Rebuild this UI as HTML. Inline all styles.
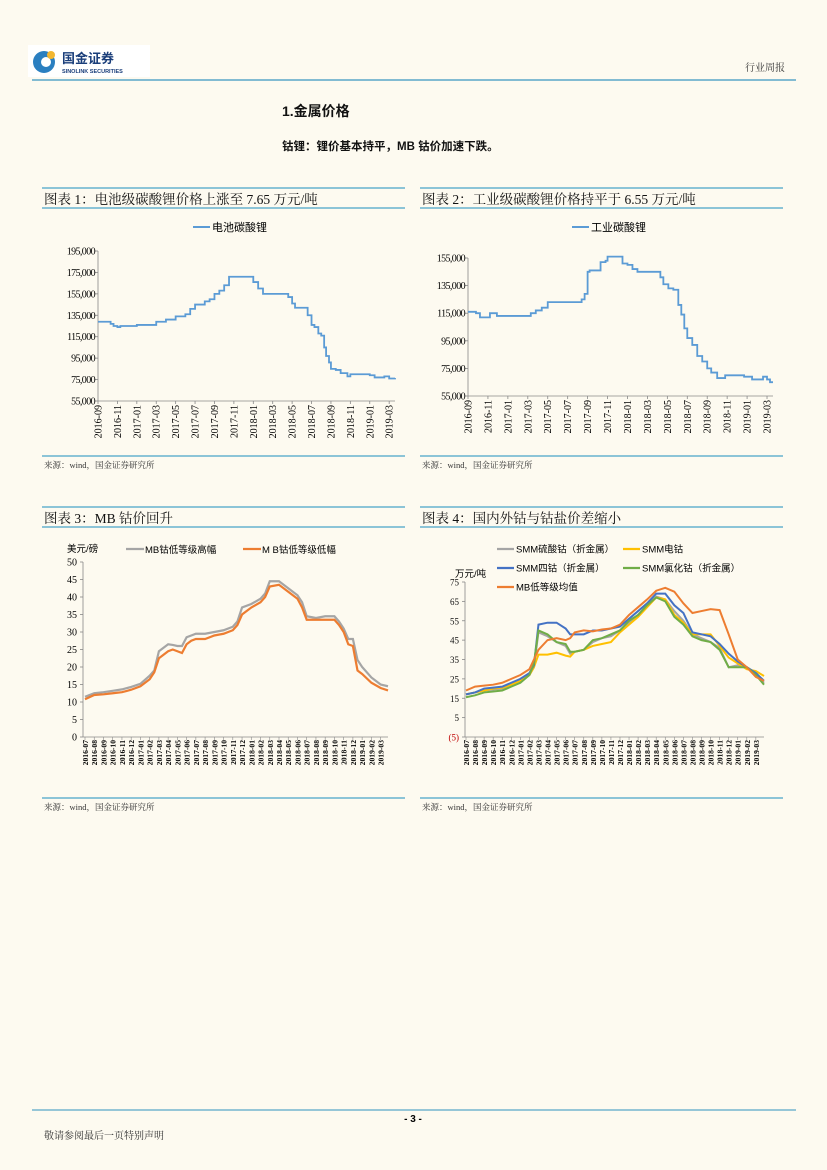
<!DOCTYPE html>
<html><head><meta charset="utf-8">
<style>
html,body{margin:0;padding:0;background:#fdfaf0;}
svg{display:block;font-family:"Liberation Serif","Noto Serif CJK SC",serif;}
.sans{font-family:"Liberation Sans","Noto Sans CJK SC",sans-serif;}
</style></head>
<body>
<svg id="page" width="827" height="1170" viewBox="0 0 827 1170" xmlns="http://www.w3.org/2000/svg">
<rect width="827" height="1170" fill="#fdfaf0"/>
<g>
 <rect x="28" y="45" width="122" height="32" fill="#ffffff"/>
 <circle cx="44" cy="62" r="11" fill="#2a7fc0"/>
 <circle cx="46" cy="62" r="5" fill="#ffffff"/>
 <circle cx="51" cy="55" r="4" fill="#f2b630"/>
 <text x="62" y="63" class="sans" font-size="13" font-weight="bold" fill="#1a3e7a">国金证券</text>
 <text x="62" y="73" class="sans" font-size="5.5" font-weight="bold" fill="#1a3e7a">SINOLINK SECURITIES</text>
 <text x="785" y="71" font-size="10" text-anchor="end" fill="#333">行业周报</text>
 <line x1="32" y1="80" x2="796" y2="80" stroke="#5aa6c8" stroke-width="1.5"/>
</g>
<text x="282" y="116" class="sans" font-size="14" font-weight="bold" fill="#111">1.金属价格</text>
<text x="282" y="150" class="sans" font-size="11.5" font-weight="bold" fill="#111">钴锂：锂价基本持平，MB 钴价加速下跌。</text>
<g id="charts"></g>
<g>
 <line x1="32" y1="1110" x2="796" y2="1110" stroke="#5aa6c8" stroke-width="1.2"/>
 <text x="413" y="1122" text-anchor="middle" class="sans" font-size="10" font-weight="bold">- 3 -</text>
 <text x="44" y="1139" font-size="10" fill="#333">敬请参阅最后一页特别声明</text>
</g>
</svg>
<script>
// Chart 1: battery-grade lithium carbonate (x = months since 2016-09)
const c1Months=[0,1.3,1.6,2,2.3,4,6,7,8,9,9.5,10,11,11.5,12,12.5,13,13.5,15.7,16,16.5,17,19.3,19.6,20,20.3,21.3,21.6,22,22.3,22.7,23,23.3,23.5,23.8,24,24.5,25,25.7,26,28,28.5,29.5,30,30.6];
const c1Values=[129,127,125,124,125,126,129,131,134,136,141,145,148,150,155,158,163,171,171,166,160,155,155,152,146,142,142,135,126,124,118,116,105,97,91,85,84,81,78,80,79,77,78,76,76.5];
const c1Ticks=[55000,75000,95000,115000,135000,155000,175000,195000];
const c1XLabels=["2016-09","2016-11","2017-01","2017-03","2017-05","2017-07","2017-09","2017-11","2018-01","2018-03","2018-05","2018-07","2018-09","2018-11","2019-01","2019-03"];
// Chart 2: industrial-grade lithium carbonate
const c2Months=[0,0.8,1.2,2.2,2.9,6.3,6.8,7.4,8,11.4,11.7,12,12.2,13.3,13.8,14,15.5,16,16.5,17,19.3,19.6,20.1,20.6,21.1,21.4,21.7,22,22.5,23,23.5,24,24.4,25,25.8,26.4,27.7,28.5,29.6,30,30.3,30.6];
const c2Values=[116,115,112,115,113,115,117,119,123,125,129,145,146,152,153,156,151,150,147,145,141,136,133,132,121,114,104,97,92,84,80,75,72,68,70,70,69,67,69,67,65,65];
const c2Ticks=[55000,75000,95000,115000,135000,155000];
const c2XLabels=c1XLabels;
// Chart 3: MB cobalt (x = months since 2016-07)
const c3Months=[0,1,2,3,4,5,6,7,7.5,8,8.5,9,9.5,10,10.5,11,11.5,12,13,14,15,16,16.5,17,18,19,19.5,20,21,22,23,23.5,24,25,26,27,27.5,28,28.5,29,29.5,30,31,32,32.8];
const c3High=[11.5,12.5,12.8,13.2,13.6,14.3,15.2,17.5,19,24.5,25.5,26.5,26.3,26,26,28.5,29,29.5,29.5,30,30.5,31.5,33,37,38,39.5,41,44.5,44.5,42.5,40.5,38.5,34.5,34,34.5,34.5,33,31,28,28,22,20,17,15,14.5];
const c3Low=[10.8,12,12.2,12.5,12.8,13.5,14.5,16.5,18.5,22.5,23.5,24.5,25,24.5,24,26.5,27.5,28,28,29,29.5,30.5,32,35,37,38.5,40,43,43.5,41.5,39.5,37,33.5,33.5,33.5,33.5,32,30,26.5,26,19,18,15.5,14,13.3];
const c3Ticks=[0,5,10,15,20,25,30,35,40,45,50];
const monthLabels=["2016-07","2016-08","2016-09","2016-10","2016-11","2016-12","2017-01","2017-02","2017-03","2017-04","2017-05","2017-06","2017-07","2017-08","2017-09","2017-10","2017-11","2017-12","2018-01","2018-02","2018-03","2018-04","2018-05","2018-06","2018-07","2018-08","2018-09","2018-10","2018-11","2018-12","2019-01","2019-02","2019-03"];
// Chart 4: domestic vs MB cobalt (x = months since 2016-07)
const c4Months=[0,1,2,3,4,5,6,7,7.5,8,9,10,11,11.5,12,13,14,15,16,17,18,19,20,21,22,23,24,25,26,27,28,29,30,31,32,32.9];
const c4Sulfate=[17,18,19,19.5,20,22,24,27,31,49,47,44,42,38,39,40,44,46,47,50,54,58,63,67.5,66,60,55,48,46,44,41,31,32,31,28,23];
const c4Electro=[17,18,19,20,20.5,22,24,27,31,37.5,37.5,38.5,37,36.5,39,40,42,43,44,49,53,57,62,67,66,58,54,48,48,48,42,36,33,30,29,26.5];
const c4Oxide=[17,18,20,20.5,21,23,25,28,32,53,54,54,51,48,48,48,50,50,51,52,56,60,64,69,69,63,59,49,48,47,43,38,34,31,28,24];
const c4Chloride=[15.5,16.5,18,18.5,19,21,23,27,33,50,48,44,43,39,39,40,45,46,48,50,55,58,63,67,65,57,53,47,45,44,40,31,31,31,27,22];
const c4MB=[19,21,21.5,22,23,25,27,30,35,40,45,46,45,46,49,50,49.5,50.5,51,53,58,62,66,70.5,72,70,64,59,60,61,60.5,48,35,31,26,24];
const c4Ticks=[-5,5,15,25,35,45,55,65,75];

const NS="http://www.w3.org/2000/svg";
const root=document.getElementById('charts');
function mk(tag,attrs,parent,text){const e=document.createElementNS(NS,tag);for(const k in attrs)e.setAttribute(k,attrs[k]);if(text!==undefined)e.textContent=text;(parent||root).appendChild(e);return e;}
function scale(d0,d1,r0,r1){return v=>r0+(v-d0)/(d1-d0)*(r1-r0);}
function frame(x1,x2,yTop,yBot,title,srcY,name){
  const g=mk('g',{});
  
  
  mk('line',{x1:x1,y1:yTop,x2:x2,y2:yTop,stroke:'#4aa3c8','stroke-width':1.3},g);
  mk('line',{x1:x1,y1:yBot,x2:x2,y2:yBot,stroke:'#4aa3c8','stroke-width':1.3},g);
  const t=mk('text',{x:x1+2,y:yTop+16,'font-size':13.5,fill:'#111'},g,title);
  
  
  mk('line',{x1:x1,y1:srcY,x2:x2,y2:srcY,stroke:'#4aa3c8','stroke-width':1.3},g);
  const s=mk('text',{x:x1+2,y:srcY+12,'font-size':8.5,fill:'#333'},g,'来源：wind，国金证券研究所');
  
  
  return g;
}
function stepPath(xs,ys,sx,sy){let d='';for(let i=0;i<xs.length;i++){const X=sx(xs[i]),Y=sy(ys[i]);if(i===0)d+='M'+X+' '+Y;else d+=' H'+X+' V'+Y;}return d;}
function linePath(xs,ys,sx,sy){return xs.map((x,i)=>(i?'L':'M')+sx(x)+' '+sy(ys[i])).join(' ');}
function fmt(v){return v.toLocaleString('en-US');}

// Lithium chart
function lithium(g,xL,xR,yT,yB,yMin,yMax,ticks,months,vals,labels,label2,legX,legY,legText,name){
  const sx=scale(0,30,xL,xR-(xR-xL)*0.6/30.6),sy=scale(yMin,yMax,yB,yT);
  mk('line',{x1:xL,y1:yT,x2:xL,y2:yB,stroke:'#888','stroke-width':0.8},g);
  mk('line',{x1:xL,y1:yB,x2:xR,y2:yB,stroke:'#888','stroke-width':0.8},g);
  ticks.forEach(t=>{const y=sy(t/1000);mk('line',{x1:xL-3,y1:y,x2:xL,y2:y,stroke:'#888','stroke-width':0.8},g);
    const tx=mk('text',{x:xL-3,y:y+3.5,'font-size':10,'text-anchor':'end','letter-spacing':'-0.6'},g,fmt(t));
    
    });
  labels.forEach((l,i)=>{const x=sx(i*2);mk('line',{x1:x,y1:yB,x2:x,y2:yB+3,stroke:'#888','stroke-width':0.8},g);
    const tx=mk('text',{x:0,y:0,'font-size':10,'text-anchor':'end',transform:`translate(${x+3.5},${yB+4}) rotate(-90)`},g,l);
    
    });
  const p=mk('path',{d:stepPath(months,vals,sx,sy),fill:'none',stroke:'#5b9bd5','stroke-width':1.8},g);
  
  
  mk('line',{x1:legX,y1:legY,x2:legX+17,y2:legY,stroke:'#5b9bd5','stroke-width':2},g);
  const lt=mk('text',{x:legX+19,y:legY+4,'font-size':11,class:'sans'},g,legText);
  
  
}
const g1=frame(42,405,188,208,'图表 1：电池级碳酸锂价格上涨至 7.65 万元/吨',456,'chart-battery-lithium');
lithium(g1,98,395,251,401,55,195,c1Ticks,c1Months,c1Values,c1XLabels,null,193,227,'电池碳酸锂','battery-lithium-line');
const g2=frame(420,783,188,208,'图表 2：工业级碳酸锂价格持平于 6.55 万元/吨',456,'chart-industrial-lithium');
lithium(g2,468,773,258,396,55,155,c2Ticks,c2Months,c2Values,c2XLabels,null,572,227,'工业碳酸锂','industrial-lithium-line');

// Cobalt charts
function monthAxis(g,sx,yB,xL,xR){
  mk('line',{x1:xL,y1:yB,x2:xR,y2:yB,stroke:'#888','stroke-width':0.8},g);
  monthLabels.forEach((l,i)=>{const x=sx(i);mk('line',{x1:x,y1:yB,x2:x,y2:yB+3,stroke:'#888','stroke-width':0.6},g);
    const tx=mk('text',{x:0,y:0,'font-size':7.6,'font-weight':'bold','text-anchor':'end',transform:`translate(${x+3},${yB+3}) rotate(-90)`},g,l);
    
    });
}
const g3=frame(42,405,507,527,'图表 3：MB 钴价回升',798,'chart-mb-cobalt');
(function(){
  const xL=83,xR=388,yT=562,yB=737;
  const sx=scale(0,32.8,xL+2,xR),sy=scale(0,50,yB,yT);
  mk('line',{x1:xL,y1:yT,x2:xL,y2:yB,stroke:'#888','stroke-width':0.8},g3);
  c3Ticks.forEach(t=>{const y=sy(t);mk('line',{x1:xL-3,y1:y,x2:xL,y2:y,stroke:'#888','stroke-width':0.8},g3);
    const tx=mk('text',{x:xL-6,y:y+3.5,'font-size':10,'text-anchor':'end'},g3,t);
    
    });
  monthAxis(g3,sx,yB,xL,xR);
  const a=mk('path',{d:linePath(c3Months,c3High,sx,sy),fill:'none',stroke:'#a5a5a5','stroke-width':2.2},g3);
  
  
  const b=mk('path',{d:linePath(c3Months,c3Low,sx,sy),fill:'none',stroke:'#ed7d31','stroke-width':2.2},g3);
  
  
  const u=mk('text',{x:67,y:552,'font-size':9.5,class:'sans'},g3,'美元/磅');
  
  
  mk('line',{x1:126,y1:549,x2:144,y2:549,stroke:'#a5a5a5','stroke-width':2.2},g3);
  const l1=mk('text',{x:145,y:553,'font-size':9.5,class:'sans'},g3,'MB钴低等级高幅');
  
  
  mk('line',{x1:243,y1:549,x2:261,y2:549,stroke:'#ed7d31','stroke-width':2.2},g3);
  const l2=mk('text',{x:262,y:553,'font-size':9.5,class:'sans'},g3,'M B钴低等级低幅');
  
  
})();

const g4=frame(420,783,507,527,'图表 4：国内外钴与钴盐价差缩小',798,'chart-cobalt-spread');
(function(){
  const xL=465,xR=764,yT=582,yB=737;
  const sx=scale(0,32.9,xL+1,xR),sy=scale(-5,75,yB,yT);
  mk('line',{x1:xL,y1:yT,x2:xL,y2:yB,stroke:'#888','stroke-width':0.8},g4);
  c4Ticks.forEach(t=>{const y=sy(t);mk('line',{x1:xL-3,y1:y,x2:xL,y2:y,stroke:'#888','stroke-width':0.8},g4);
    const neg=t<0;
    const tx=mk('text',{x:xL-6,y:y+3.5,'font-size':9,'text-anchor':'end',fill:neg?'#c00000':'#111'},g4,neg?'('+(-t)+')':t);
    
    });
  monthAxis(g4,sx,yB,xL,xR);
  const series=[[c4Sulfate,'#a5a5a5','cobalt-sulfate-line'],[c4Electro,'#ffc000','electro-cobalt-line'],[c4Oxide,'#4472c4','cobalt-oxide-line'],[c4Chloride,'#70ad47','cobalt-chloride-line'],[c4MB,'#ed7d31','mb-average-line']];
  series.forEach(s=>{const p=mk('path',{d:linePath(c4Months,s[0],sx,sy),fill:'none',stroke:s[1],'stroke-width':2},g4);
    
    });
  const u=mk('text',{x:455,y:577,'font-size':9.5,class:'sans'},g4,'万元/吨');
  
  
  const leg=[[497,549,'#a5a5a5','SMM硫酸钴（折金属）'],[623,549,'#ffc000','SMM电钴'],[497,568,'#4472c4','SMM四钴（折金属）'],[623,568,'#70ad47','SMM氯化钴（折金属）'],[497,587,'#ed7d31','MB低等级均值']];
  leg.forEach(l=>{mk('line',{x1:l[0],y1:l[1],x2:l[0]+17,y2:l[1],stroke:l[2],'stroke-width':2.2},g4);
    const t=mk('text',{x:l[0]+19,y:l[1]+3.5,'font-size':9.5,class:'sans'},g4,l[3]);
    
    });
})();
</script>
</body></html>
